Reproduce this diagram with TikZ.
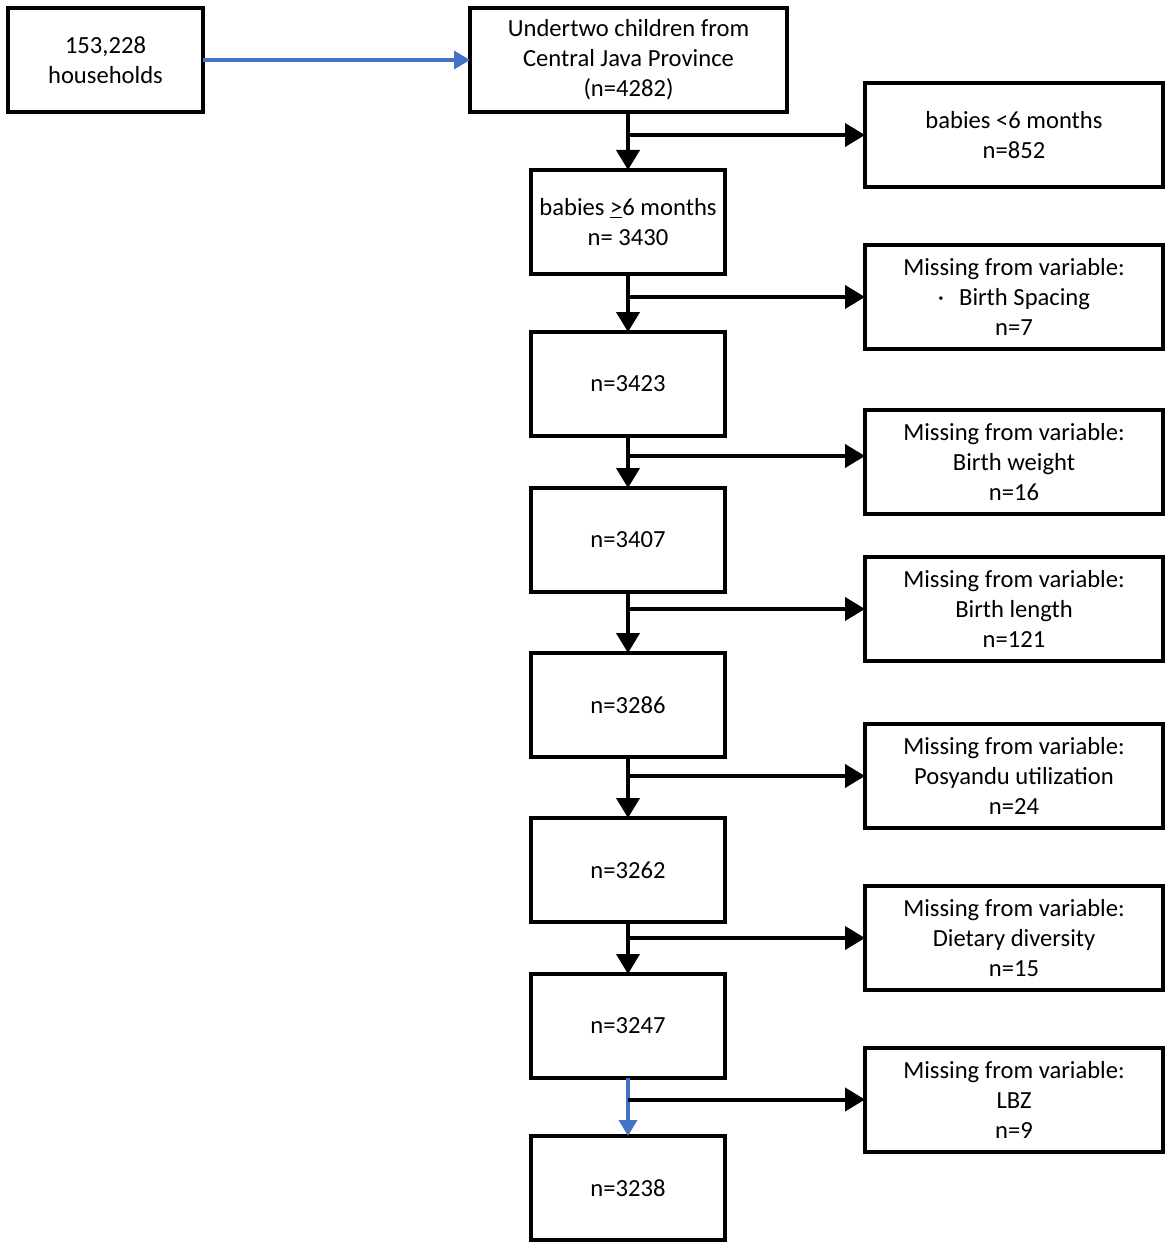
\documentclass[tikz,border=0pt]{standalone}
\usepackage{fontspec}
\setmainfont{Carlito}
\usetikzlibrary{arrows.meta,positioning,calc}
\definecolor{arrowblue}{HTML}{4472C4}
\begin{document}
\begin{tikzpicture}[x=1pt,y=-1pt,
  box/.style={draw=black,line width=4pt,outer sep=0pt,inner sep=2pt,align=center,
    font=\fontsize{24.6}{30}\selectfont},
  leftbox/.style={box,minimum width=194pt,minimum height=104pt},
  rightbox/.style={box,minimum width=298pt,minimum height=104pt},
  blk/.style={draw=black,line width=4pt,-{Triangle[length=20pt,width=23pt]}},
  blu/.style={draw=arrowblue,line width=3.6pt,-{Triangle[length=16pt,width=18pt]}}]
\useasboundingbox (0,0) rectangle (1170,1249);
\node[box,minimum width=195pt,minimum height=104pt] (A) at (105.5,60) {153,228\\households};
\node[box,minimum width=317pt,minimum height=104pt] (B) at (628.5,60) {Undertwo children from\\Central Java Province\\(n=4282)};
\node[leftbox] (C) at (628,222) {babies \underline{>}6 months\\n= 3430};
\node[leftbox] (D) at (628,384) {n=3423};
\node[leftbox] (E) at (628,540) {n=3407};
\node[leftbox] (F) at (628,705) {n=3286};
\node[leftbox] (G) at (628,870) {n=3262};
\node[leftbox] (H) at (628,1026) {n=3247};
\node[leftbox] (I) at (628,1188) {n=3238};
\node[rightbox] (R1) at (1014,135) {babies <6 months\\n=852};
\node[rightbox] (R2) at (1014,297) {Missing from variable:\\·\hspace{15pt}Birth Spacing\\n=7};
\node[rightbox] (R3) at (1014,462) {Missing from variable:\\Birth weight\\n=16};
\node[rightbox] (R4) at (1014,609) {Missing from variable:\\Birth length\\n=121};
\node[rightbox] (R5) at (1014,776) {Missing from variable:\\Posyandu utilization\\n=24};
\node[rightbox] (R6) at (1014,938) {Missing from variable:\\Dietary diversity\\n=15};
\node[rightbox] (R7) at (1014,1099.5) {Missing from variable:\\LBZ\\n=9};
\draw[blu] (A.east) -- (B.west);
\draw[blk] (B.south -| C.north) -- (C.north);
\draw[blk] (C.south) -- (D.north);
\draw[blk] (D.south) -- (E.north);
\draw[blk] (E.south) -- (F.north);
\draw[blk] (F.south) -- (G.north);
\draw[blk] (G.south) -- (H.north);
\draw[blu] (H.south) -- (I.north);
\draw[blk] (C.north |- R1.west) -- (R1.west);
\draw[blk] (C.south |- R2.west) -- (R2.west);
\coordinate (R3a) at ($(R3.west)+(0,-6)$);
\draw[blk] (C.south |- R3a) -- (R3a);
\draw[blk] (C.south |- R4.west) -- (R4.west);
\draw[blk] (C.south |- R5.west) -- (R5.west);
\draw[blk] (C.south |- R6.west) -- (R6.west);
\draw[blk] (C.south |- R7.west) -- (R7.west);
\end{tikzpicture}
\end{document}
